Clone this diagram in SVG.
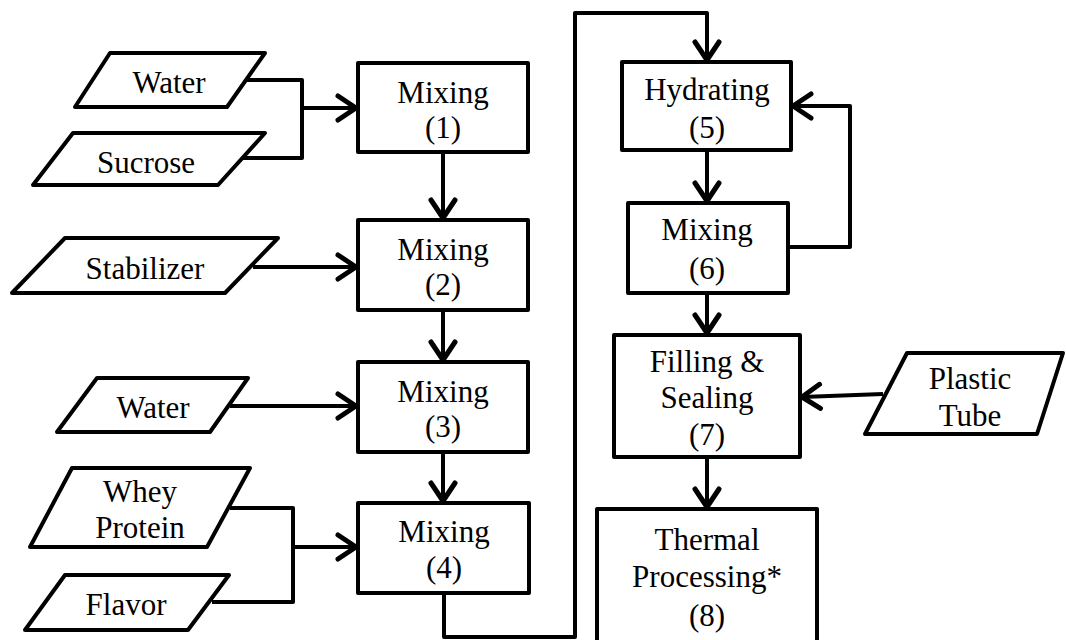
<svg xmlns="http://www.w3.org/2000/svg" width="1066" height="640" viewBox="0 0 1066 640">
<defs>
<style>
.box{fill:#fff;stroke:#000;stroke-width:4;stroke-linejoin:round}
.io{fill:#fff;stroke:#000;stroke-width:4;stroke-linejoin:round}
.ln{fill:none;stroke:#000;stroke-width:4;stroke-linejoin:round}
text{font-family:"Liberation Serif","Times New Roman",serif;font-size:31px;fill:#000;text-anchor:middle}
</style>
<marker id="ah" markerUnits="userSpaceOnUse" viewBox="-25 -16 28 32" markerWidth="28" markerHeight="32" refX="0" refY="0" orient="auto" overflow="visible">
<path d="M-18,-12 L0,0 L-18,12" fill="none" stroke="#000" stroke-width="5" stroke-linecap="round" stroke-linejoin="round"/>
</marker>
</defs>
<rect width="1066" height="640" fill="#fff"/>

<g id="connectors">
<path class="ln" d="M247,80 H302 V158 H243"/>
<path class="ln" d="M302,108 H356" marker-end="url(#ah)"/>
<path class="ln" d="M253,267 H356" marker-end="url(#ah)"/>
<path class="ln" d="M230,406 H356" marker-end="url(#ah)"/>
<path class="ln" d="M230,508 H293 V602 H212"/>
<path class="ln" d="M293,547 H356" marker-end="url(#ah)"/>
<path class="ln" d="M443,152 V218" marker-end="url(#ah)"/>
<path class="ln" d="M443,310 V360" marker-end="url(#ah)"/>
<path class="ln" d="M443,452 V501" marker-end="url(#ah)"/>
<path class="ln" d="M444,593 V637 H575 V13 H707 V60" marker-end="url(#ah)"/>
<path class="ln" d="M707,150 V201" marker-end="url(#ah)"/>
<path class="ln" d="M707,293 V333" marker-end="url(#ah)"/>
<path class="ln" d="M707,457 V507" marker-end="url(#ah)"/>
<path class="ln" d="M788,247 H850 V106 H793" marker-end="url(#ah)"/>
<path class="ln" d="M883,394 L802,397" marker-end="url(#ah)"/>
</g>

<g id="water1">
<polygon class="io" points="110,53 265,53 227,107 75,107"/>
<text x="169" y="93">Water</text>
</g>
<g id="sucrose">
<polygon class="io" points="73,133 265,133 218,185 33,185"/>
<text x="146" y="173">Sucrose</text>
</g>
<g id="stabilizer">
<polygon class="io" points="65,238 278,238 225,293 12,293"/>
<text x="145" y="279">Stabilizer</text>
</g>
<g id="water2">
<polygon class="io" points="97,378 248,378 210,432 57,432"/>
<text x="153" y="418">Water</text>
</g>
<g id="whey">
<polygon class="io" points="72,468 250,468 207,547 30,547"/>
<text x="140" y="502">Whey</text>
<text x="140" y="538">Protein</text>
</g>
<g id="flavor">
<polygon class="io" points="65,575 229,575 188,630 25,630"/>
<text x="126" y="615">Flavor</text>
</g>

<g id="mixing1">
<rect class="box" x="358" y="63" width="170" height="89"/>
<text x="443" y="103">Mixing</text>
<text x="443" y="138">(1)</text>
</g>
<g id="mixing2">
<rect class="box" x="358" y="220" width="170" height="90"/>
<text x="443" y="260">Mixing</text>
<text x="443" y="295">(2)</text>
</g>
<g id="mixing3">
<rect class="box" x="358" y="362" width="170" height="90"/>
<text x="443" y="402">Mixing</text>
<text x="443" y="437">(3)</text>
</g>
<g id="mixing4">
<rect class="box" x="358" y="503" width="171" height="90"/>
<text x="444" y="542">Mixing</text>
<text x="444" y="578">(4)</text>
</g>

<g id="hydrating5">
<rect class="box" x="622" y="62" width="169" height="88"/>
<text x="707" y="100">Hydrating</text>
<text x="707" y="138">(5)</text>
</g>
<g id="mixing6">
<rect class="box" x="628" y="203" width="160" height="90"/>
<text x="707" y="240">Mixing</text>
<text x="707" y="279">(6)</text>
</g>
<g id="filling7">
<rect class="box" x="614" y="335" width="186" height="122"/>
<text x="707" y="372">Filling &amp;</text>
<text x="707" y="408">Sealing</text>
<text x="707" y="445">(7)</text>
</g>
<g id="thermal8">
<rect class="box" x="597" y="509" width="220" height="140"/>
<text x="707" y="550">Thermal</text>
<text x="707" y="587">Processing*</text>
<text x="707" y="626">(8)</text>
</g>
<g id="plastic">
<polygon class="io" points="907,353 1063,353 1037,434 865,434"/>
<text x="970" y="389">Plastic</text>
<text x="970" y="426">Tube</text>
</g>
</svg>
